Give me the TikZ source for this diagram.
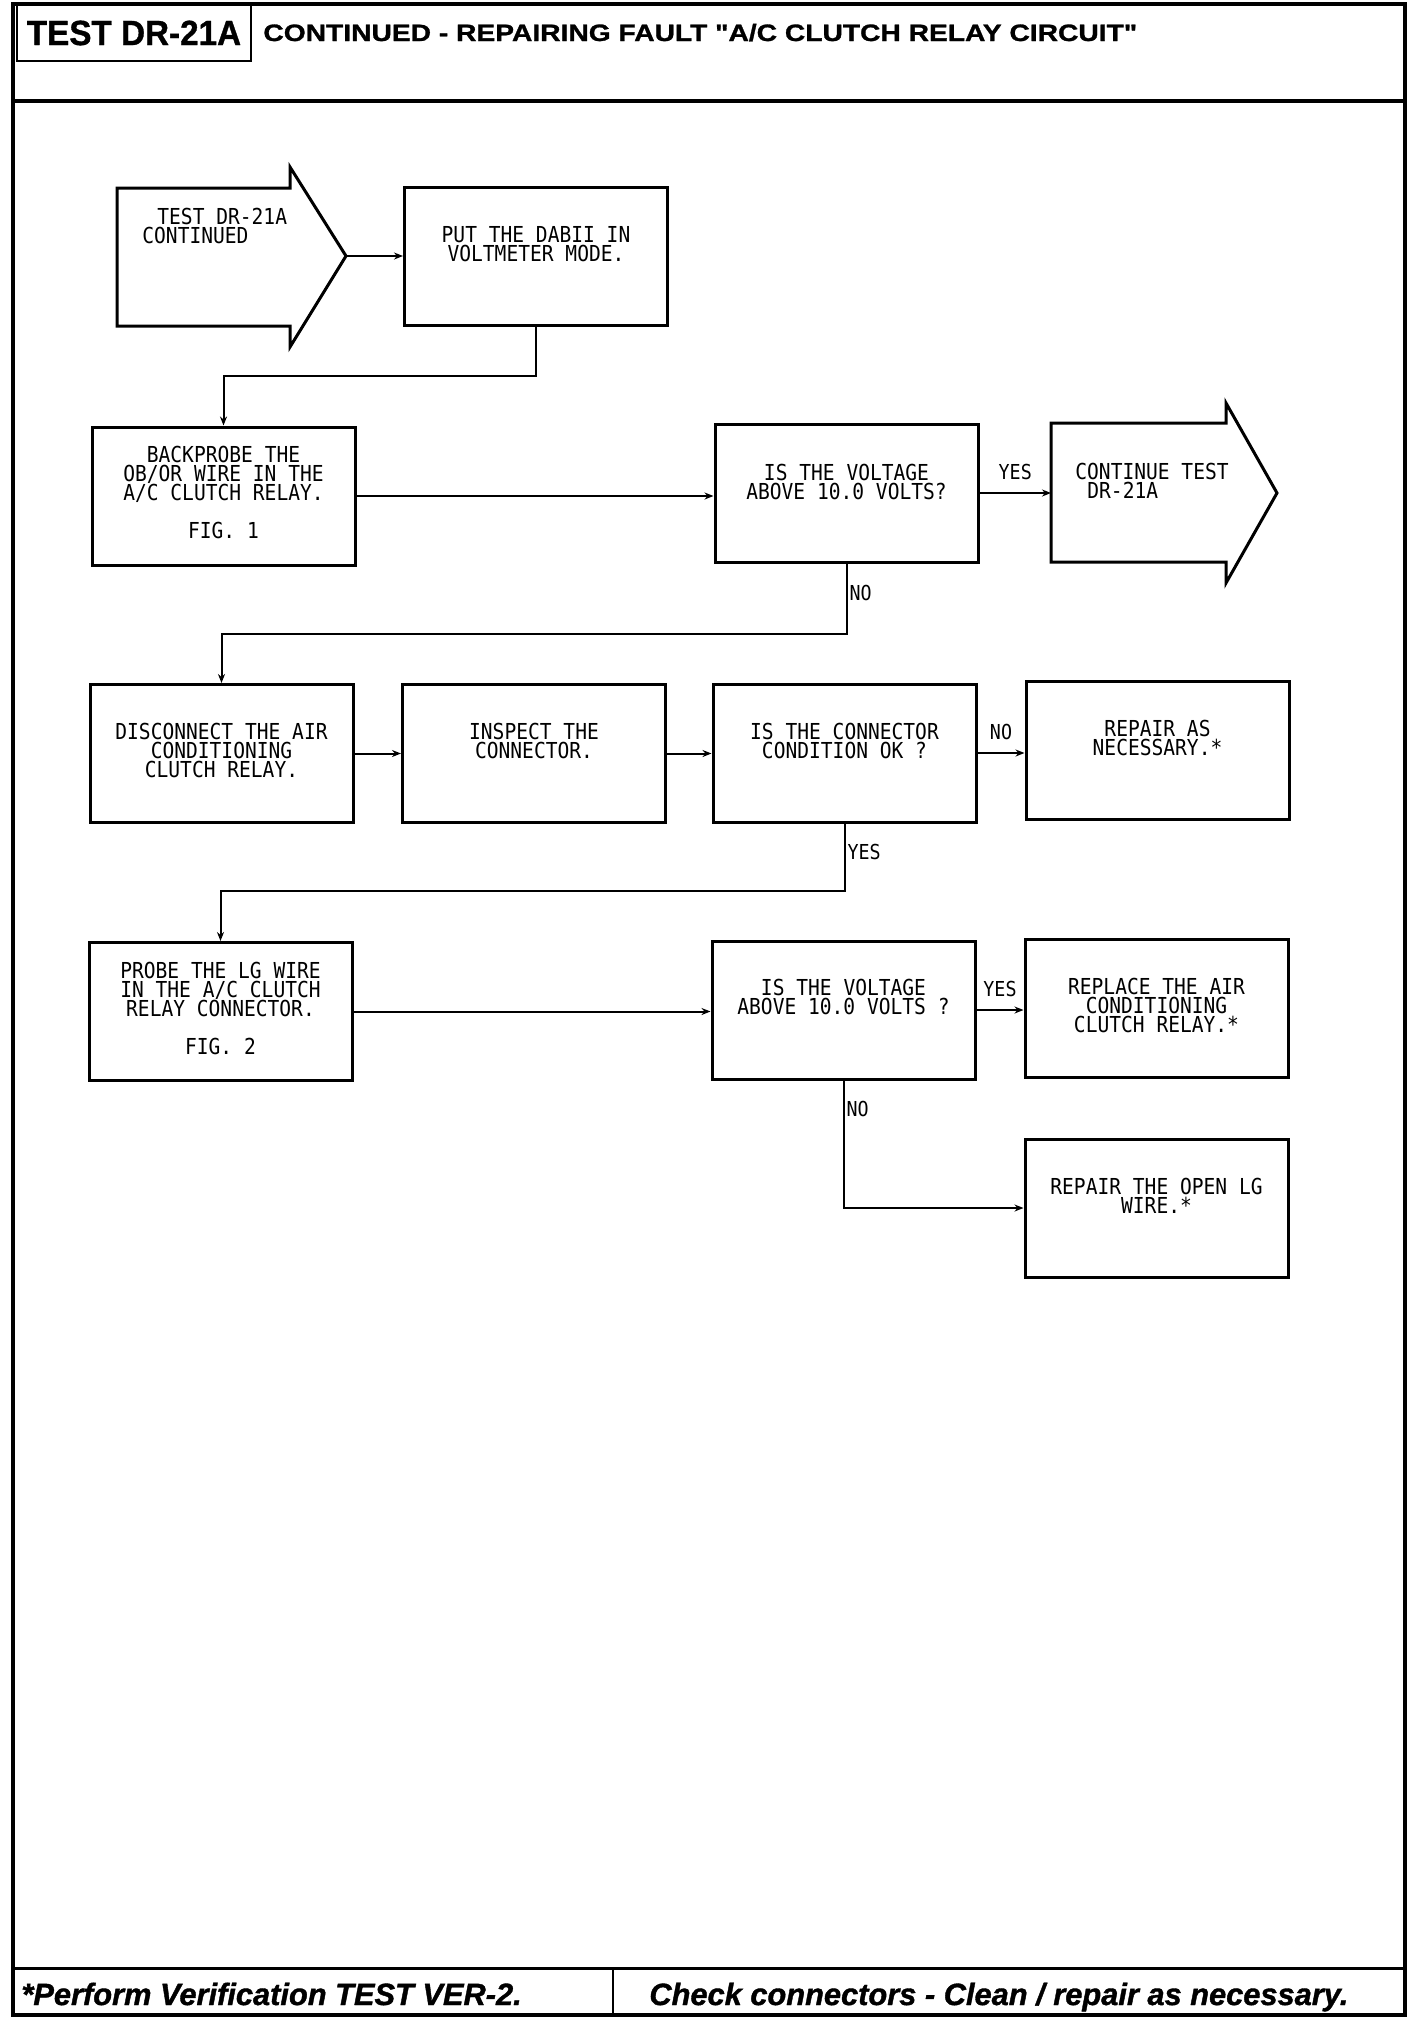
\documentclass[tikz,border=0pt]{standalone}
\usepackage{fontspec}
\setmainfont{Liberation Sans}
\newfontfamily\plotfont[FakeStretch=0.89]{DejaVu Sans Mono}
\newfontfamily\headfont[FakeStretch=1.19,FakeBold=1.2]{Liberation Sans}
\newfontfamily\testfont[FakeStretch=0.95,FakeBold=1]{Liberation Sans}
\newfontfamily\footfont[FakeBold=1.2]{Liberation Sans}
\newcommand\plotsize{\plotfont\fontsize{11}{9.5}\selectfont\lineskiplimit=-5pt\relax}
\usetikzlibrary{arrows.meta,positioning}

\begin{document}
\begin{tikzpicture}[x=0.5pt,y=-0.5pt,
    stepbox/.style={draw,line width=1.5pt,minimum width=131.5pt,minimum height=69pt,inner sep=0pt},
    boxtext/.style={anchor=north,align=center,inner sep=0pt,font=\plotsize},
    flow/.style={line width=1pt,-{Stealth[length=4.5pt,width=3.5pt]}},
    tag/.style={inner sep=1pt,font=\plotfont\fontsize{10.3}{11}\selectfont}]
    \useasboundingbox (0,0) rectangle (1424,2024);
    % frame, header and footer
    \draw[line width=2pt] (13,4) rectangle (1405,2015);
    \draw[line width=2pt] (13,101) -- (1405,101);
    \draw[line width=1.5pt] (13,1968) -- (1405,1968);
    \draw[line width=1.2pt] (613,1968) -- (613,2015);
    \node[draw,line width=1.2pt,minimum width=117pt,minimum height=28pt,inner sep=0pt,font=\testfont\bfseries\fontsize{17.5}{18}\selectfont] (testno) at (134,33) {TEST DR-21A};
    \node[anchor=base west,inner sep=0pt,font=\headfont\bfseries\fontsize{11.85}{13}\selectfont] (title) at (263,41) {CONTINUED - REPAIRING FAULT "A/C CLUTCH RELAY CIRCUIT"};
    \node[anchor=base west,inner sep=0pt,font=\footfont\bfseries\itshape\fontsize{15.4}{16}\selectfont] (verify) at (21,2005) {*Perform Verification TEST VER-2.};
    \node[anchor=base west,inner sep=0pt,font=\footfont\bfseries\itshape\fontsize{15.4}{16}\selectfont] (clean) at (649,2005) {Check connectors - Clean / repair as necessary.};

    % entry and exit arrows
    \draw[line width=1.5pt] (117,188) -- (290,188) -- (290,167) -- (346,256) -- (290,347) -- (290,326) -- (117,326) -- cycle;
    \coordinate (start-tip) at (346,256);
    \node[anchor=north west,align=left,inner sep=0pt,font=\plotsize] (start) at (142,208) {\hspace*{7.5pt}TEST DR-21A\\CONTINUED};
    \draw[line width=1.5pt] (1051,423) -- (1226,423) -- (1226,403) -- (1277,493) -- (1226,583) -- (1226,562) -- (1051,562) -- cycle;
    \coordinate (cont-tail) at (1051,493);
    \node[anchor=north west,align=left,inner sep=0pt,font=\plotsize] (cont) at (1075,463) {CONTINUE TEST\\\hspace*{6pt}DR-21A};

    % boxes
    \node[stepbox] (put) at (536,256) {};
    \node[boxtext,below=20.5pt of put.north] (put-t) {PUT THE DABII IN\\VOLTMETER MODE.};
    \node[stepbox] (bp) at (223.5,496) {};
    \node[boxtext,below=10pt of bp.north] (bp-t) {BACKPROBE THE\\OB/OR WIRE IN THE\\A/C CLUTCH RELAY.\\[9.5pt]FIG. 1};
    \node[stepbox] (d1) at (846.5,493) {};
    \node[boxtext,below=20.5pt of d1.north] (d1-t) {IS THE VOLTAGE\\ABOVE 10.0 VOLTS?};
    \node[stepbox] (dis) at (221.5,753.5) {};
    \node[boxtext,below=20pt of dis.north] (dis-t) {DISCONNECT THE AIR\\CONDITIONING\\CLUTCH RELAY.};
    \node[stepbox] (insp) at (534,753.5) {};
    \node[boxtext,below=20pt of insp.north] (insp-t) {INSPECT THE\\CONNECTOR.};
    \node[stepbox] (d2) at (844.5,753) {};
    \node[boxtext,below=20pt of d2.north] (d2-t) {IS THE CONNECTOR\\CONDITION OK ?};
    \node[stepbox] (rep1) at (1157.5,750) {};
    \node[boxtext,below=20pt of rep1.north] (rep1-t) {REPAIR AS\\NECESSARY.*};
    \node[stepbox] (probe) at (220.5,1011.5) {};
    \node[boxtext,below=10.5pt of probe.north] (probe-t) {PROBE THE LG WIRE\\IN THE A/C CLUTCH\\RELAY CONNECTOR.\\[9.5pt]FIG. 2};
    \node[stepbox] (d3) at (843.5,1010) {};
    \node[boxtext,below=19.5pt of d3.north] (d3-t) {IS THE VOLTAGE\\ABOVE 10.0 VOLTS ?};
    \node[stepbox] (repl) at (1156.5,1008.5) {};
    \node[boxtext,below=20pt of repl.north] (repl-t) {REPLACE THE AIR\\CONDITIONING\\CLUTCH RELAY.*};
    \node[stepbox] (ropen) at (1156.5,1208) {};
    \node[boxtext,below=20pt of ropen.north] (ropen-t) {REPAIR THE OPEN LG\\WIRE.*};

    % connectors
    \draw[flow] (start-tip) -- (put.west);
    \draw[flow] (put.south) -- ++(0,49) -| (bp.north);
    \draw[flow] (bp.east) -- (bp.east -| d1.west);
    \draw[flow] (d1.east) -- node[tag,above=5pt] (yes1) {YES} (cont-tail);
    \draw[flow] (d1.south) -- node[tag,right,pos=.42] (no1) {NO} ++(0,70) -| (dis.north);
    \draw[flow] (dis.east) -- (insp.west);
    \draw[flow] (insp.east) -- (insp.east -| d2.west);
    \draw[flow] (d2.east) -- node[tag,above=5pt] (no2) {NO} (d2.east -| rep1.west);
    \draw[flow] (d2.south) -- node[tag,right,pos=.42] (yes2) {YES} ++(0,67) -| (probe.north);
    \draw[flow] (probe.east) -- (probe.east -| d3.west);
    \draw[flow] (d3.east) -- node[tag,above=5pt] (yes3) {YES} (d3.east -| repl.west);
    \draw[flow] (d3.south) |- node[tag,right,pos=.11] (no3) {NO} (ropen.west);
\end{tikzpicture}
\end{document}
